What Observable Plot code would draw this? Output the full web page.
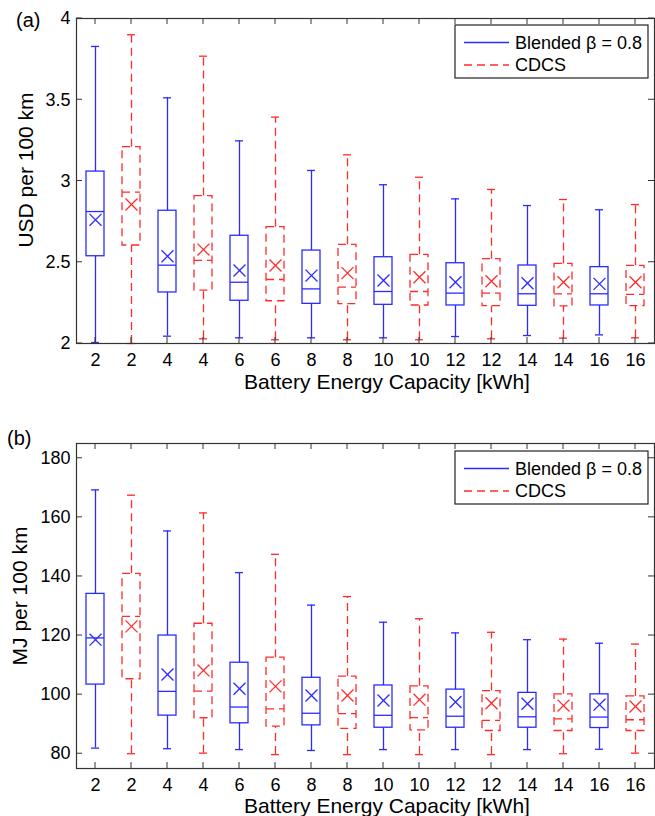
<!DOCTYPE html>
<html><head><meta charset="utf-8">
<script src="https://cdn.jsdelivr.net/npm/d3@7"></script>
<script src="https://cdn.jsdelivr.net/npm/@observablehq/plot@0.6"></script>
<style>
body{margin:0;background:#fff;}
#c{width:655px;}
svg{display:block;}
</style></head><body><div id="c"></div>
<script>
// ---- categories ----
const capacities = [2, 4, 6, 8, 10, 12, 14, 16];
const seriesNames = ["Blended β = 0.8", "CDCS"];
const xTickLabels = capacities.flatMap(c => [String(c), String(c)]);

// ---- panel (a): USD per 100 km ----
const usdTicks = [2, 2.5, 3, 3.5, 4];
const usdBlendedMax    = [3.828, 3.512, 3.247, 3.065, 2.977, 2.890, 2.849, 2.823];
const usdBlendedQ3     = [3.058, 2.817, 2.663, 2.572, 2.531, 2.494, 2.480, 2.470];
const usdBlendedMedian = [2.812, 2.482, 2.377, 2.336, 2.320, 2.310, 2.306, 2.306];
const usdBlendedMean   = [2.761, 2.537, 2.449, 2.418, 2.388, 2.377, 2.371, 2.367];
const usdBlendedQ1     = [2.537, 2.314, 2.263, 2.244, 2.238, 2.234, 2.232, 2.234];
const usdBlendedMin    = [2.006, 2.045, 2.035, 2.035, 2.035, 2.043, 2.049, 2.053];
const usdCdcsMax    = [3.900, 3.768, 3.393, 3.161, 3.023, 2.948, 2.886, 2.855];
const usdCdcsQ3     = [3.208, 2.907, 2.716, 2.607, 2.546, 2.519, 2.490, 2.478];
const usdCdcsMedian = [2.931, 2.511, 2.394, 2.347, 2.320, 2.310, 2.306, 2.302];
const usdCdcsMean   = [2.855, 2.578, 2.480, 2.433, 2.408, 2.383, 2.377, 2.377];
const usdCdcsQ1     = [2.603, 2.326, 2.260, 2.242, 2.234, 2.230, 2.228, 2.230];
const usdCdcsMin    = [2.000, 2.029, 2.023, 2.023, 2.023, 2.029, 2.033, 2.035];

// ---- panel (b): MJ per 100 km ----
const mjTicks = [80, 100, 120, 140, 160, 180];
const mjBlendedMax    = [169.3, 155.4, 141.3, 130.3, 124.5, 120.9, 118.6, 117.4];
const mjBlendedQ3     = [134.1, 120.0, 110.8, 105.7, 103.1, 101.7, 100.6, 100.1];
const mjBlendedMedian = [119.2, 101.1, 95.8, 93.7, 93.0, 92.7, 92.5, 92.4];
const mjBlendedMean   = [118.6, 106.8, 102.0, 99.7, 98.0, 97.5, 96.9, 96.6];
const mjBlendedQ1     = [103.4, 92.9, 90.3, 89.6, 88.8, 88.8, 88.8, 88.7];
const mjBlendedMin    = [81.9, 81.7, 81.4, 81.1, 81.4, 81.4, 81.4, 81.5];
const mjCdcsMax    = [167.5, 161.5, 147.5, 133.2, 125.7, 121.1, 118.8, 117.1];
const mjCdcsQ3     = [140.9, 124.0, 112.5, 106.1, 102.8, 101.2, 100.1, 99.4];
const mjCdcsMedian = [126.5, 101.2, 95.2, 93.6, 92.2, 91.3, 91.8, 91.5];
const mjCdcsMean   = [123.1, 108.2, 102.8, 99.7, 98.3, 97.1, 96.3, 96.0];
const mjCdcsQ1     = [105.2, 92.0, 89.2, 88.4, 87.9, 87.7, 87.7, 87.7];
const mjCdcsMin    = [80.0, 80.2, 79.7, 79.7, 79.7, 79.7, 80.0, 80.2];

const BLUE = "#2b2bff", RED = "#ff2b2b", DASH = "8,5", SW = 1.3;
const FONT = "'Liberation Sans', Arial, Helvetica, sans-serif";

function rowsFor(offset, mx, q3, md, mn, q1, mi) {
  return capacities.map((c, i) => ({
    idx: 2 * i + offset, max: mx[i], q3: q3[i], median: md[i], mean: mn[i], q1: q1[i], min: mi[i]
  }));
}

function seriesMarks(rows, color, dash) {
  const common = {x: "idx", stroke: color, strokeWidth: SW, strokeDasharray: dash};
  return [
    Plot.ruleX(rows, {...common, y1: "q3", y2: "max"}),
    Plot.ruleX(rows, {...common, y1: "min", y2: "q1"}),
    Plot.tickY(rows, {...common, y: "max", insetLeft: 14, insetRight: 14}),
    Plot.tickY(rows, {...common, y: "min", insetLeft: 14, insetRight: 14}),
    Plot.barY(rows, {...common, y1: "q1", y2: "q3", fill: "none", insetLeft: 9, insetRight: 9}),
    Plot.tickY(rows, {...common, y: "median", insetLeft: 9, insetRight: 9}),
    Plot.dot(rows, {x: "idx", y: "mean", symbol: "times", r: 5.5, stroke: color, strokeWidth: SW})
  ];
}

function panel(cfg) {
  const {blended, cdcs, yDomain, yTicks, height, marginTop, marginBottom, tag, tagX, tagY,
         yLabel, yLabelX, yLabelY, xLabelY, legendTop} = cfg;
  const chart = Plot.plot({
    width: 655, height, marginTop, marginBottom, marginLeft: 76, marginRight: 1,
    style: {fontFamily: FONT, fontSize: "18px", color: "#000", background: "#fff", overflow: "visible"},
    x: {type: "band", domain: d3.range(xTickLabels.length), padding: 0, label: null},
    y: {domain: yDomain, label: null},
    marks: [
      ...seriesMarks(blended, BLUE, null),
      ...seriesMarks(cdcs, RED, DASH),
      Plot.frame({stroke: "#333", strokeWidth: 1.2}),
      Plot.axisX({tickSize: 0, tickPadding: 10, tickFormat: i => xTickLabels[i], label: null, fontSize: 18}),
      Plot.axisY({ticks: yTicks, tickSize: 0, tickPadding: 6, tickFormat: d => String(d), label: null, fontSize: 18})
    ]
  });
  const svg = d3.select(chart);
  const sx = chart.scale("x"), sy = chart.scale("y");
  const [left, right] = [76, 655 - 1];
  const [bottom, top] = [height - marginBottom, marginTop];
  const g = svg.append("g").attr("stroke", "#333").attr("stroke-width", 1);
  for (const i of sx.domain) {
    const px = sx.apply(i) + sx.bandwidth / 2;
    g.append("line").attr("x1", px).attr("x2", px).attr("y1", bottom).attr("y2", bottom - 6);
    g.append("line").attr("x1", px).attr("x2", px).attr("y1", top).attr("y2", top + 6);
  }
  for (const t of yTicks) {
    const py = sy.apply(t);
    g.append("line").attr("x1", left).attr("x2", left + 6).attr("y1", py).attr("y2", py);
    g.append("line").attr("x1", right).attr("x2", right - 6).attr("y1", py).attr("y2", py);
  }
  const txt = (s, attrs) => {
    const t = svg.append("text").text(s).attr("font-family", FONT).attr("fill", "#000")
      .attr("text-anchor", "start");
    for (const k in attrs) t.attr(k, attrs[k]);
    return t;
  };
  txt(tag, {x: tagX, y: tagY, "font-size": 20});
  txt(yLabel, {transform: `translate(${yLabelX},${yLabelY}) rotate(-90)`, "text-anchor": "middle", "font-size": 21});
  txt("Battery Energy Capacity [kWh]", {x: 387, y: xLabelY, "text-anchor": "middle", "font-size": 21});
  // legend
  const lg = svg.append("g");
  lg.append("rect").attr("x", 455).attr("y", legendTop).attr("width", 193).attr("height", 53)
    .attr("fill", "#fff").attr("stroke", "#222").attr("stroke-width", 1.2);
  const rowsY = [legendTop + 17.5, legendTop + 40];
  [[BLUE, null], [RED, DASH]].forEach(([col, dash], k) => {
    const ln = lg.append("line").attr("x1", 464).attr("x2", 509).attr("y1", rowsY[k]).attr("y2", rowsY[k])
      .attr("stroke", col).attr("stroke-width", SW);
    if (dash) ln.attr("stroke-dasharray", dash);
    lg.append("text").text(seriesNames[k]).attr("x", 515).attr("y", rowsY[k]).attr("dy", "0.35em")
      .attr("text-anchor", "start")
      .attr("font-family", FONT).attr("font-size", 18).attr("fill", "#000");
  });
  return chart;
}

const c = document.getElementById("c");
c.append(panel({
  blended: rowsFor(0, usdBlendedMax, usdBlendedQ3, usdBlendedMedian, usdBlendedMean, usdBlendedQ1, usdBlendedMin),
  cdcs: rowsFor(1, usdCdcsMax, usdCdcsQ3, usdCdcsMedian, usdCdcsMean, usdCdcsQ1, usdCdcsMin),
  yDomain: [2, 4], yTicks: usdTicks, height: 400, marginTop: 18, marginBottom: 57,
  tag: "(a)", tagX: 16, tagY: 27, yLabel: "USD per 100 km", yLabelX: 33, yLabelY: 170, xLabelY: 389,
  legendTop: 25
}));
c.append(panel({
  blended: rowsFor(0, mjBlendedMax, mjBlendedQ3, mjBlendedMedian, mjBlendedMean, mjBlendedQ1, mjBlendedMin),
  cdcs: rowsFor(1, mjCdcsMax, mjCdcsQ3, mjCdcsMedian, mjCdcsMean, mjCdcsQ1, mjCdcsMin),
  yDomain: [75, 185], yTicks: mjTicks, height: 416, marginTop: 43, marginBottom: 48,
  tag: "(b)", tagX: 7, tagY: 45, yLabel: "MJ per 100 km", yLabelX: 27, yLabelY: 196, xLabelY: 413,
  legendTop: 51
}));
</script></body></html>
